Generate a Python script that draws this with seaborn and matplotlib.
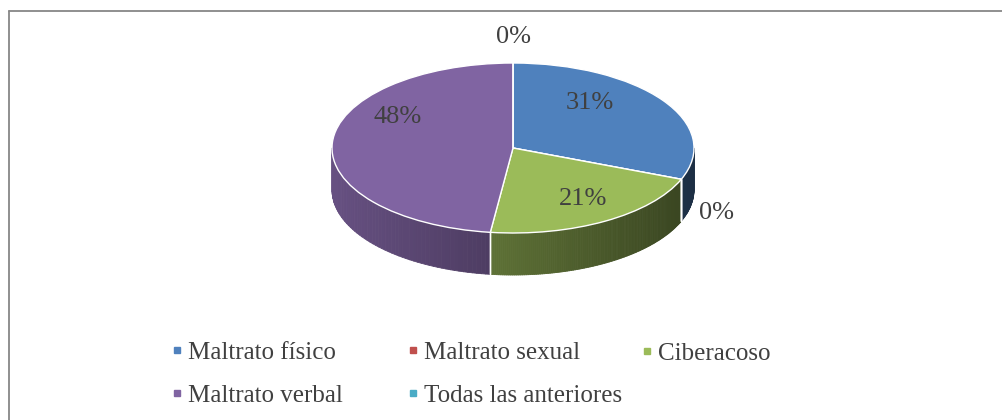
import numpy as np
import matplotlib
matplotlib.use("Agg")
import matplotlib.pyplot as plt
import seaborn as sns
from matplotlib.lines import Line2D
from matplotlib.collections import PolyCollection
from matplotlib.colors import to_rgb

# Data
categories = ["Maltrato físico", "Maltrato sexual", "Ciberacoso",
              "Maltrato verbal", "Todas las anteriores"]
values = [31, 0, 21, 48, 0]
colors = ["#4F81BD", "#C0504D", "#9BBB59", "#8064A2", "#4BACC6"]

sns.set_theme(style="white")
plt.rcParams['font.family'] = ['Liberation Serif', 'DejaVu Serif']
TEXT = "#404040"

W, H = 1002, 420
fig = plt.figure(figsize=(W / 100, H / 100), dpi=100)
ax = fig.add_axes([0, 0, 1, 1])

# pie geometry (pixels): centre, horizontal/vertical radius, depth
CX, CY, RX, RY, DEPTH = 513, 148, 181, 85, 42

wedges, texts, autotexts = ax.pie(
    values, colors=colors, startangle=90, counterclock=False,
    autopct='%1.0f%%', pctdistance=0.62,
    wedgeprops=dict(edgecolor='white', linewidth=1.0, zorder=3),
    textprops=dict(color=TEXT, fontsize=19))

# squash the circle into an ellipse: one x unit = RX px, one y unit = RY px
ax.set_aspect('auto')
ax.set_xlim(-CX / RX, (W - CX) / RX)
ax.set_ylim(-(H - CY) / RY, CY / RY)
ax.axis('off')

# 3D side wall, shaded darker towards the right
d = DEPTH / RY
polys, pcols = [], []
for w, c in zip(wedges, colors):
    if w.theta2 - w.theta1 <= 0:
        continue
    ts = np.radians(np.linspace(w.theta1, w.theta2, 120))
    base = np.array(to_rgb(c))
    for t1, t2 in zip(ts[:-1], ts[1:]):
        if np.sin((t1 + t2) / 2) >= 0:
            continue
        x1, y1, x2, y2 = np.cos(t1), np.sin(t1), np.cos(t2), np.sin(t2)
        polys.append([(x1, y1), (x2, y2), (x2, y2 - d), (x1, y1 - d)])
        xm = (x1 + x2) / 2
        f = 0.62 - 0.22 * (xm + 0.18)
        pcols.append(tuple(np.clip(base * f, 0, 1)))
ax.add_collection(PolyCollection(polys, facecolors=pcols, edgecolors=pcols,
                                 linewidths=0.6, zorder=1))

# white seams on the wall where slices meet
for w in wedges:
    for th in (w.theta1, w.theta2):
        t = np.radians(th)
        if np.sin(t) < -0.05:
            ax.plot([np.cos(t)] * 2, [np.sin(t), np.sin(t) - d],
                    color='white', lw=1.0, zorder=2)

# label placement: inside for real slices, outside for the 0% ones
nudge_px = [(-16, -15), (-7, 26), (13, 6), (-3, -28), (0, -5)]
for w, v, t, (dx, dy) in zip(wedges, values, autotexts, nudge_px):
    mid = np.radians((w.theta1 + w.theta2) / 2)
    r = 0.62 if v > 0 else 1.25
    t.set_position((r * np.cos(mid) + dx / RX, r * np.sin(mid) - dy / RY))
    t.set_ha('center')
    t.set_va('center')
    t.set_zorder(5)

# legend, three columns
handles = [Line2D([], [], marker='s', ls='none', ms=5, mfc=c, mec=c)
           for c in colors]
cols = [([0, 3], 172, 374), ([1, 4], 408, 374), ([2], 642, 353.5)]
for idx, xp, yp in cols:
    leg = fig.legend([handles[i] for i in idx], [categories[i] for i in idx],
                     loc='center left', bbox_to_anchor=(xp / W, 1 - yp / H),
                     frameon=False, fontsize=18, handlelength=0.4,
                     handletextpad=0.25, labelspacing=0.8,
                     borderpad=0, borderaxespad=0)
    for txt in leg.get_texts():
        txt.set_color(TEXT)

# chart border (cropped on right and bottom)
fig.add_artist(Line2D([9 / W, 1], [1 - 11 / H, 1 - 11 / H],
                      transform=fig.transFigure, color='#878787', lw=1.3))
fig.add_artist(Line2D([9 / W, 9 / W], [1 - 11 / H, 0],
                      transform=fig.transFigure, color='#878787', lw=1.3))

fig.savefig("out.png", dpi=100, facecolor='white')
